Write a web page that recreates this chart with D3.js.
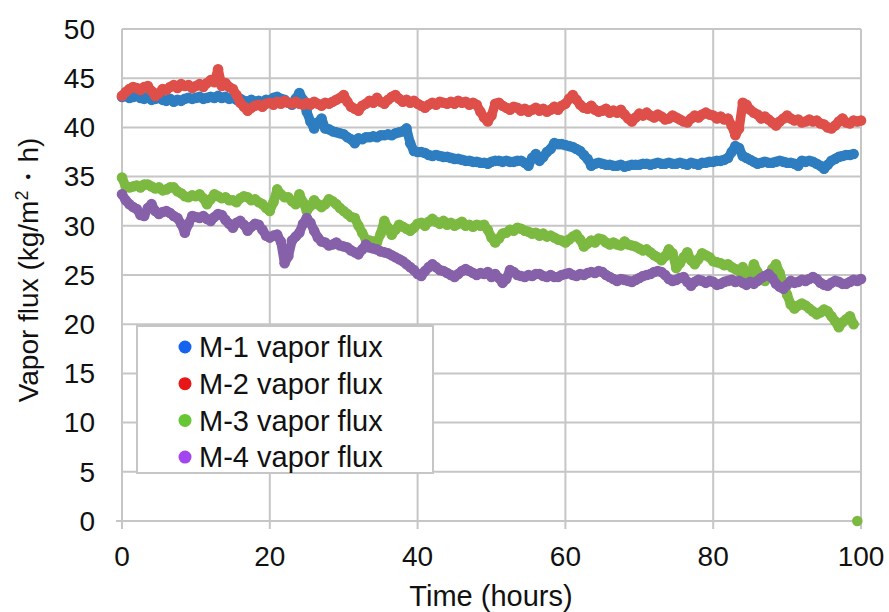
<!DOCTYPE html>
<html><head><meta charset="utf-8">
<script src="https://cdn.jsdelivr.net/npm/d3@7/dist/d3.min.js"></script>
<style>body{margin:0;background:#fff}svg{display:block}</style></head>
<body><svg id="chart" width="889" height="612"></svg>
<script>
// Sampling interval of the read values (hours)
const stepHours = 0.5;

// M-1 vapor flux, h = 0 .. 99
const m1 = [
43.1,43.2,43.0,43.1,43.2,43.0,42.9,43.1,42.8,42.9,
43.0,42.8,42.7,42.9,42.6,42.8,42.7,42.9,43.0,42.9,
43.0,43.1,42.9,43.0,43.1,43.0,43.2,43.0,43.1,42.9,
43.0,42.8,42.9,42.7,42.6,42.8,42.6,42.7,42.5,42.8,
42.7,43.0,43.1,42.9,42.8,42.5,42.3,42.9,43.5,42.8,
41.6,40.6,39.9,40.5,40.9,39.9,39.8,39.6,39.5,39.4,
39.3,39.0,38.8,38.4,38.9,38.8,39.0,39.0,39.1,39.0,
39.2,39.2,39.3,39.2,39.4,39.5,39.6,39.9,38.4,37.6,
37.5,37.5,37.4,37.2,37.1,37.2,37.1,37.0,37.0,36.9,
36.8,36.8,36.7,36.6,36.6,36.5,36.5,36.4,36.4,36.3,
36.5,36.6,36.6,36.5,36.6,36.5,36.5,36.6,36.6,36.4,
36.1,36.9,37.3,36.6,37.0,37.5,37.8,38.4,38.3,38.3,
38.2,38.1,38.0,37.8,37.6,37.2,36.8,36.1,36.3,36.4,
36.3,36.2,36.2,36.1,36.1,36.2,36.0,36.1,36.2,36.2,
36.2,36.3,36.3,36.2,36.3,36.4,36.3,36.3,36.4,36.3,
36.3,36.4,36.3,36.2,36.4,36.3,36.2,36.4,36.4,36.5,
36.5,36.6,36.6,36.7,36.9,37.5,38.1,37.9,37.1,36.9,
36.7,36.5,36.3,36.4,36.5,36.4,36.4,36.5,36.6,36.5,
36.4,36.4,36.3,36.1,36.6,36.5,36.6,36.5,36.3,36.1,
35.8,36.2,36.6,36.8,37.0,37.1,37.2,37.2,37.3
];

// M-2 vapor flux, h = 0 .. 100
const m2 = [
43.2,43.6,43.9,44.1,44.0,43.8,44.1,44.2,43.7,43.2,
43.5,43.9,43.8,44.1,44.3,44.0,44.4,44.2,44.3,44.0,
44.2,44.4,44.1,44.5,44.8,44.6,45.9,44.2,44.5,44.1,
43.9,43.3,42.5,42.1,41.7,42.0,42.2,42.3,42.1,42.4,
42.5,42.3,42.6,42.4,42.7,42.5,42.4,42.6,42.4,42.3,
42.5,42.3,42.6,42.4,42.2,42.5,42.4,42.6,42.8,43.0,
43.3,42.6,42.1,41.9,41.7,42.2,42.4,42.7,42.5,43.0,
42.6,42.4,42.8,43.1,43.3,42.9,42.6,42.8,42.5,42.7,
42.4,42.2,42.0,42.3,42.5,42.3,42.6,42.5,42.4,42.6,
42.4,42.7,42.5,42.6,42.3,42.5,42.3,41.6,41.0,40.6,
41.2,42.4,42.5,42.2,42.0,41.8,42.1,42.0,41.7,41.9,
41.6,41.8,42.0,41.7,41.9,41.6,41.8,42.1,41.8,42.2,
42.4,42.9,43.3,42.8,42.3,42.0,41.9,42.2,41.8,41.6,
41.7,41.9,41.5,41.7,41.5,41.8,41.3,40.9,40.6,41.0,
41.4,41.2,41.5,41.2,41.0,41.3,41.1,40.8,40.9,41.2,
41.0,40.8,40.6,40.5,40.9,41.2,41.0,41.3,41.5,41.3,
41.2,40.9,41.1,40.8,40.9,40.2,39.2,39.9,42.5,42.3,
41.8,41.5,41.3,40.9,41.1,40.8,40.5,40.2,40.6,40.9,
41.2,40.9,40.7,40.8,40.5,40.6,40.8,40.6,40.7,40.4,
40.3,40.0,39.9,40.2,40.6,40.9,40.5,40.4,40.7,40.6,
40.7
];

// M-3 vapor flux, h = 0 .. 99.5 (last reading drops to 0)
const m3 = [
34.9,34.0,33.9,34.0,34.1,33.9,34.2,34.2,34.0,33.8,
33.9,33.6,33.7,33.9,33.9,33.5,33.3,33.0,32.9,33.1,
33.0,33.2,32.8,32.2,32.7,33.2,33.0,32.8,32.9,32.6,
32.6,32.4,32.8,33.0,32.9,32.6,32.7,32.4,32.2,31.8,
31.5,32.4,33.7,33.2,32.9,32.9,32.5,32.2,33.2,32.4,
31.5,32.0,32.6,32.2,31.9,32.2,32.7,32.5,32.2,31.8,
31.5,31.2,30.9,30.8,30.0,29.3,28.6,28.5,28.4,28.3,
29.2,30.5,29.8,29.1,29.6,30.1,29.9,29.7,29.5,29.8,
30.2,30.3,30.0,30.4,30.7,30.4,30.2,30.5,30.1,30.3,
30.0,30.2,30.4,30.0,30.1,29.9,30.1,30.0,30.1,29.6,
28.8,28.3,28.7,29.2,29.3,29.6,29.5,29.8,29.7,29.5,
29.4,29.2,29.3,29.0,29.2,28.9,29.0,28.8,28.6,28.5,
28.3,28.6,28.9,29.1,28.6,27.9,28.2,28.5,28.3,28.7,
28.6,28.3,28.1,28.3,28.1,28.0,28.4,28.1,28.0,27.9,
27.7,27.5,27.6,27.3,27.0,26.8,26.5,26.9,27.6,27.2,
25.7,26.2,26.8,27.3,26.5,26.1,26.6,27.2,27.0,26.8,
26.4,26.3,26.2,26.0,26.1,25.8,25.6,25.4,25.8,24.4,
24.9,26.1,25.3,24.6,24.4,25.0,25.6,26.1,25.2,24.1,
23.0,22.0,21.6,21.9,22.1,21.9,21.6,21.3,21.0,21.2,
21.5,21.3,20.8,20.3,19.7,20.2,20.5,20.8,20.0,0
];

// M-4 vapor flux, h = 0 .. 100
const m4 = [
33.2,32.6,32.2,31.9,31.7,31.1,31.0,31.8,32.2,31.5,
31.2,31.4,31.5,31.3,31.0,30.8,30.2,29.3,30.2,31.0,
30.9,30.8,31.0,30.7,30.5,30.9,31.2,31.1,30.6,30.2,
29.8,30.3,30.5,30.1,29.5,29.9,30.2,30.1,29.6,29.0,
28.8,29.0,29.1,28.4,26.2,26.9,28.5,28.9,29.3,30.2,
30.8,30.3,29.5,28.8,28.4,28.3,28.0,28.1,28.3,28.0,
27.9,27.8,27.5,27.3,27.1,27.6,28.1,27.8,27.7,27.6,
27.4,27.3,27.2,27.0,26.8,26.6,26.4,26.1,25.8,25.5,
25.1,24.9,25.4,25.8,26.1,25.8,25.5,25.4,25.2,25.0,
24.8,25.1,25.4,25.6,25.4,25.2,25.0,25.2,25.1,25.3,
24.8,25.1,24.7,24.2,24.6,25.5,25.3,25.0,24.9,24.8,
25.0,24.9,25.1,25.1,24.9,24.8,25.0,24.8,24.8,25.0,
25.1,25.2,25.0,24.9,25.1,25.0,25.2,25.3,25.2,25.4,
25.3,25.0,24.8,24.6,24.4,24.6,24.5,24.4,24.3,24.5,
24.7,24.9,25.0,25.1,25.3,25.4,25.3,25.0,24.6,24.4,
24.5,24.7,24.8,24.3,23.9,24.3,24.5,24.4,24.2,24.4,
24.3,24.0,24.1,24.3,24.4,24.5,24.3,24.4,24.2,24.0,
24.3,24.1,24.4,24.7,24.9,25.1,24.7,24.1,23.8,23.6,
24.0,24.4,24.2,24.3,24.5,24.4,24.6,24.8,24.6,24.2,
24.0,23.9,24.2,24.4,24.3,24.1,24.1,24.3,24.5,24.4,
24.6
];

const seriesNames = ["M-1 vapor flux", "M-2 vapor flux", "M-3 vapor flux", "M-4 vapor flux"];
const seriesColors = ["#2d7dc0", "#df4f49", "#7cb941", "#8661a9"];
const legendColors = ["#1464f0", "#e81616", "#66c633", "#a246f0"];
const xTickValues = [0, 20, 40, 60, 80, 100];
const yTickValues = [0, 5, 10, 15, 20, 25, 30, 35, 40, 45, 50];
const xTitle = "Time (hours)";

const allSeries = [m1, m2, m3, m4];

const svg = d3.select("#chart");
const FONT = "'Liberation Sans', Arial, sans-serif";
const x = d3.scaleLinear().domain([0, 100]).range([122, 861]);
const y = d3.scaleLinear().domain([0, 50]).range([521, 29]);
const gridColor = "#c6c6c6";

// horizontal gridlines
svg.append("g").selectAll("line").data(yTickValues).join("line")
  .attr("x1", x(0)).attr("x2", x(100))
  .attr("y1", d => y(d)).attr("y2", d => y(d))
  .attr("stroke", gridColor).attr("stroke-width", 2);
// vertical gridlines (extend below axis as tick marks)
svg.append("g").selectAll("line").data(xTickValues).join("line")
  .attr("x1", d => x(d)).attr("x2", d => x(d))
  .attr("y1", y(50)).attr("y2", y(0) + 8)
  .attr("stroke", gridColor).attr("stroke-width", 2);
svg.append("line").attr("x1", x(0) - 6).attr("x2", x(0))
  .attr("y1", y(0)).attr("y2", y(0)).attr("stroke", gridColor).attr("stroke-width", 2);

// y tick labels
svg.append("g").selectAll("text").data(yTickValues).join("text")
  .attr("x", 95).attr("y", d => y(d)).attr("dy", "0.35em")
  .attr("text-anchor", "end").attr("font-family", FONT).attr("font-size", 28)
  .attr("fill", "#111").text(d => d);
// x tick labels
svg.append("g").selectAll("text").data(xTickValues).join("text")
  .attr("x", d => x(d)).attr("y", 566)
  .attr("text-anchor", "middle").attr("font-family", FONT).attr("font-size", 28)
  .attr("fill", "#111").text(d => d);

// axis titles
svg.append("text").attr("x", 491).attr("y", 606).attr("text-anchor", "middle")
  .attr("font-family", FONT).attr("font-size", 29).attr("fill", "#111").text(xTitle);
const yt = svg.append("text").attr("transform", "translate(38,270) rotate(-90)")
  .attr("text-anchor", "middle").attr("font-family", FONT).attr("font-size", 28).attr("fill", "#111");
yt.append("tspan").text("Vapor flux (kg/m");
yt.append("tspan").attr("dy", -10).attr("font-size", 18).text("2");
yt.append("tspan").attr("dy", 10).text("・h)");

// data points: dense markers, drawn as a continuous band of overlapping dots
allSeries.forEach((vals, si) => {
  const pts = vals.map((v, i) => ({ h: i * stepHours, v }));
  const g = svg.append("g");
  // the final M-3 reading at 0 is an isolated point, not part of the band
  const band = si === 2 ? pts.slice(0, -1) : pts;
  g.append("path").datum(band)
    .attr("d", d3.line().x(d => x(d.h)).y(d => y(d.v)))
    .attr("fill", "none").attr("stroke", seriesColors[si])
    .attr("stroke-width", 9.5).attr("stroke-linejoin", "round").attr("stroke-linecap", "round");
  g.selectAll("circle").data(pts).join("circle")
    .attr("cx", d => x(d.h)).attr("cy", d => y(d.v)).attr("r", 5.3)
    .attr("fill", seriesColors[si]);
});

// legend
const lg = svg.append("g");
lg.append("rect").attr("x", 137).attr("y", 326).attr("width", 296).attr("height", 147)
  .attr("fill", "#fff").attr("stroke", "#c6c6c6").attr("stroke-width", 2);
seriesNames.forEach((name, i) => {
  const cy = 347 + i * 36.7;
  lg.append("circle").attr("cx", 185).attr("cy", cy).attr("r", 6.5).attr("fill", legendColors[i]);
  lg.append("text").attr("x", 199).attr("y", cy).attr("dy", "0.35em")
    .attr("font-family", FONT).attr("font-size", 29).attr("fill", "#111").text(name);
});
</script></body></html>
